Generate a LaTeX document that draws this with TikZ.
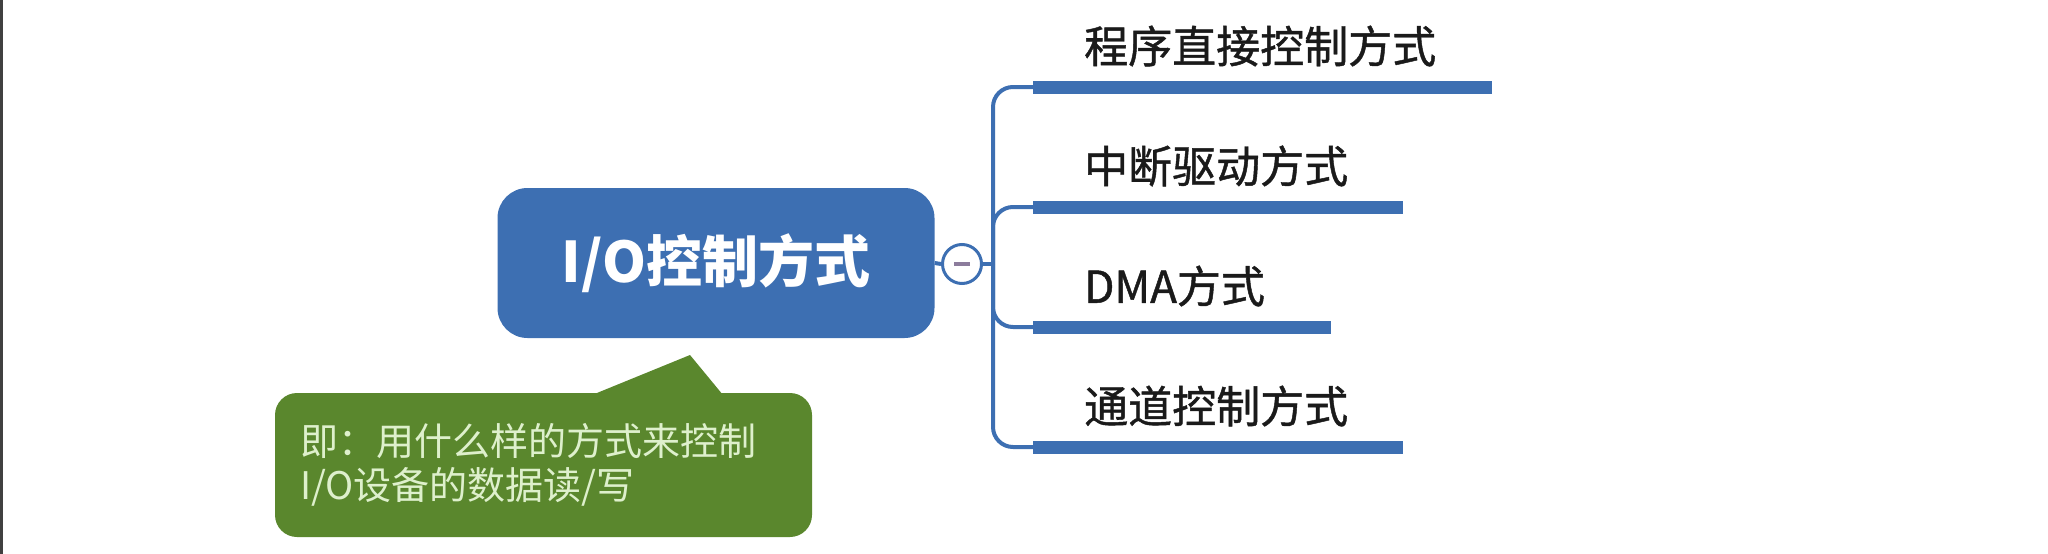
\documentclass[tikz,border=0pt]{standalone}
\usepackage{fontspec}
\setmainfont{Noto Sans CJK SC}
\newfontfamily\leaffont{Noto Sans CJK SC}[FakeBold=1]
\definecolor{ioblue}{RGB}{61,111,178}
\definecolor{notegreen}{RGB}{90,135,45}
\definecolor{notetext}{RGB}{222,240,204}
\definecolor{minusgray}{RGB}{140,124,156}
\definecolor{leaftext}{RGB}{26,26,26}
\tikzset{
	iotopic/.style={rectangle, rounded corners=30pt, fill=ioblue, text=white, minimum width=437pt, minimum height=150pt, font=\bfseries\fontsize{56}{60}\selectfont},
	iotoggle/.style={circle, draw=ioblue, line width=3pt, fill=white, minimum size=39pt, inner sep=0pt},
	iobranch/.style={draw=ioblue, line width=4pt},
	iobar/.style={rectangle, fill=ioblue, minimum height=13pt, inner sep=0pt, anchor=west},
	ioleaf/.style={anchor=west, inner sep=0pt, text=leaftext, font=\leaffont\fontsize{44}{50}\selectfont},
	ionote/.style={rectangle, rounded corners=22pt, fill=notegreen, text=notetext, text width=487pt, inner xsep=25pt, minimum height=144pt, align=left, font=\fontsize{38}{44}\selectfont},
}
\begin{document}
\begin{tikzpicture}[x=1pt,y=-1pt]
	\useasboundingbox (0,0) rectangle (2048,554);
	\fill[black!75] (0,0) rectangle (3,554);
	\node[iotopic] (io) at (716,263) {I/O控制方式};
	\node[iotoggle] (tog) at (962,264) {};
	\draw[line width=4pt, minusgray] ([xshift=-8pt]tog.center) -- ([xshift=8pt]tog.center);
	\coordinate (hub) at (993,264);
	\node[iobar, minimum width=459pt] (b1) at (1033,87) {};
	\node[iobar, minimum width=370pt] (b2) at (1033,207) {};
	\node[iobar, minimum width=298pt] (b3) at (1033,327) {};
	\node[iobar, minimum width=370pt] (b4) at (1033,447) {};
	\node[ioleaf] (l1) at (1084,46) {程序直接控制方式};
	\node[ioleaf] (l2) at (1084,166) {中断驱动方式};
	\node[ioleaf] (l3) at (1084,286) {DMA方式};
	\node[ioleaf] (l4) at (1084,406) {通道控制方式};
	\draw[iobranch] (io.east) -- (tog.west);
	\draw[iobranch] (tog.east) -- (hub);
	\draw[iobranch, rounded corners=20pt] (b1.west) -| (hub) |- (b4.west);
	\draw[iobranch, rounded corners=20pt] (hub) |- (b2.west);
	\draw[iobranch, rounded corners=20pt] (hub) |- (b3.west);
	\fill[notegreen] (592,395) -- (690,355) -- (723,395) -- cycle;
	\node[ionote] (why) at (543.5,465) {即：用什么样的方式来控制\\I/O设备的数据读/写};
\end{tikzpicture}
\end{document}
